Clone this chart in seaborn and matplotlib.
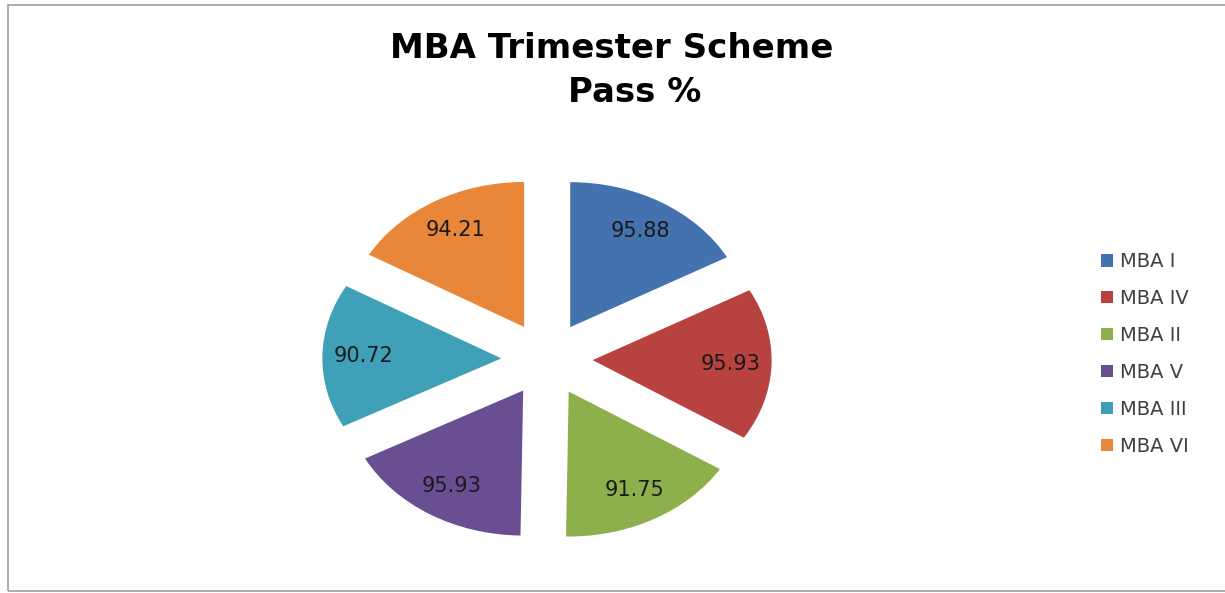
import matplotlib
matplotlib.use("Agg")
import matplotlib.pyplot as plt
from matplotlib.patches import Rectangle
import seaborn as sns

# Pass percentages per trimester group
categories = ["MBA I", "MBA IV", "MBA II", "MBA V", "MBA III", "MBA VI"]
pass_pct = [95.88, 95.93, 91.75, 95.93, 90.72, 94.21]
slice_colors = ["#4472AE", "#B8423F", "#8DB04C", "#6A4E92", "#3FA0B8", "#E8873A"]

sns.set_theme(style="white")
plt.rcParams["font.family"] = ["DejaVu Sans"]

W, H = 1225, 593
fig = plt.figure(figsize=(W / 100, H / 100), dpi=100)
fig.patch.set_facecolor("white")

# Pie placed so that one data unit spans ~179 px horizontally and 145 px vertically
cx, cy = 547, H - 359
ux, uy = 179, 145
lim = 1.4
ax = fig.add_axes([(cx - lim * ux) / W, (cy - lim * uy) / H,
                   2 * lim * ux / W, 2 * lim * uy / H])

palette = sns.color_palette(slice_colors)
wedges, texts = ax.pie(
    pass_pct,
    colors=palette,
    startangle=90,
    counterclock=False,
    explode=[0.255] * len(pass_pct),
    labels=[f"{v:.2f}" for v in pass_pct],
    labeldistance=0.77,
    wedgeprops=dict(linewidth=0),
    textprops=dict(fontsize=15, color="#1a1a1a"),
)
for t in texts:
    t.set_horizontalalignment("center")
    t.set_verticalalignment("center")

ax.set_aspect("auto")
ax.set_xlim(-lim, lim)
ax.set_ylim(-lim, lim)
ax.axis("off")

# Title, two lines
fig.text(612 / W, 1 - 48 / H, "MBA Trimester Scheme", ha="center", va="center",
         fontsize=24.5, fontweight="bold", color="black")
fig.text(635 / W, 1 - 93 / H, "Pass %", ha="center", va="center",
         fontsize=24.5, fontweight="bold", color="black")

# Legend on the right
leg = fig.legend(
    wedges, categories,
    loc="center left",
    bbox_to_anchor=(1101 / W, 1 - 354 / H),
    bbox_transform=fig.transFigure,
    frameon=False,
    fontsize=14,
    handlelength=0.6,
    handleheight=0.6,
    handletextpad=0.4,
    labelspacing=0.92,
    borderpad=0,
    borderaxespad=0,
)
for t in leg.get_texts():
    t.set_color("#404040")

# Chart area border
fig.patches.append(Rectangle((8 / W, 2 / H), 1.2, (H - 7) / H,
                             transform=fig.transFigure, fill=False,
                             edgecolor="#a6a6a6", linewidth=1.3))

fig.savefig("out.png", dpi=100)
